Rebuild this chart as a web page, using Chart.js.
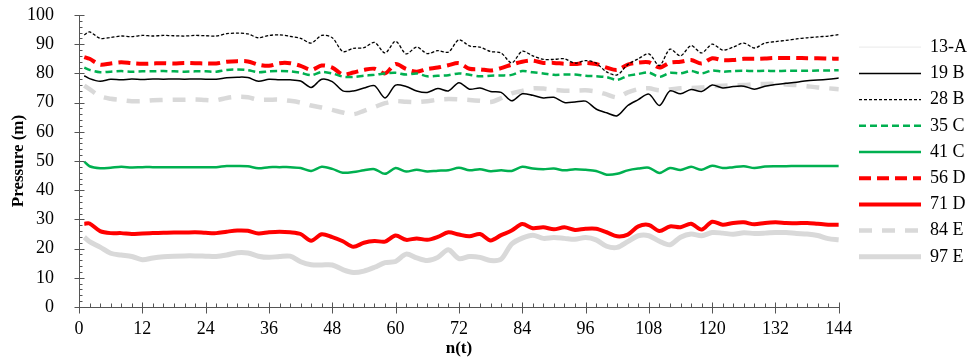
<!DOCTYPE html>
<html>
<head>
<meta charset="utf-8">
<script src="https://cdn.jsdelivr.net/npm/chart.js@4.4.1/dist/chart.umd.min.js"></script>
<style>
  html, body { margin: 0; padding: 0; background: #ffffff; }
  #wrap { width: 967px; height: 362px; position: relative; }
</style>
</head>
<body>
<div id="wrap"><canvas id="c" width="967" height="362"></canvas></div>
<script>
// time steps n(t)
const times = [1,2,4,6,8,10,12,14,16,18,20,22,24,26,28,30,32,34,36,38,40,42,44,46,48,50,52,54,56,58,60,62,64,66,68,70,72,74,76,78,80,82,84,86,88,90,92,94,96,98,100,102,104,106,108,110,112,114,116,118,120,122,124,126,128,130,132,134,136,138,140,142,144];
const xTicks = [0,12,24,36,48,60,72,84,96,108,120,132,144];
const yTicks = [0,10,20,30,40,50,60,70,80,90,100];
const seriesNames = ['13-A','19 B','28 B','35 C','41 C','56 D','71 D','84 E','97 E'];

const s19B = [79.2,78.2,77.3,78.0,77.8,78.1,77.9,78.1,78.0,78.1,78.0,78.1,78.0,78.0,78.5,78.7,78.6,77.3,78.0,77.8,77.8,77.4,75.2,78.0,77.2,74.0,74.0,75.0,75.8,71.6,76.0,75.5,74.0,73.5,74.8,74.0,76.8,74.6,75.0,73.8,73.5,70.6,73.0,72.5,71.6,71.8,70.0,70.2,70.5,67.8,66.5,65.5,69.0,71.0,72.9,69.0,74.0,73.0,74.5,73.8,76.0,75.0,75.5,75.6,74.6,75.6,76.2,76.6,77.0,77.5,77.7,78.0,78.4];
const s28B = [93.2,94.2,92.0,92.3,92.8,92.6,93.0,92.8,93.0,92.9,92.8,93.0,92.9,92.8,93.6,93.8,93.5,92.2,93.0,93.2,92.7,92.0,90.4,93.0,92.2,87.5,88.6,88.8,90.6,87.0,91.0,86.7,89.0,86.8,87.8,87.3,91.5,89.4,89.0,87.5,87.0,83.6,87.6,86.0,84.8,84.8,85.0,83.5,84.4,83.5,80.5,79.5,83.0,85.0,86.7,82.7,88.3,86.0,89.5,87.0,90.0,88.0,89.0,90.4,88.7,90.4,90.9,91.3,91.8,92.2,92.5,92.8,93.3];
const s13A = s28B; // not distinguishable in the picture: assumed to lie under 28 B
const s35C = [82.0,81.2,80.4,80.6,80.8,80.6,80.7,80.7,80.8,80.7,80.6,80.7,80.7,80.6,81.2,81.3,81.1,80.4,80.7,80.8,80.7,80.2,79.4,80.5,80.0,78.9,78.8,79.2,79.5,80.0,80.2,79.6,80.0,79.0,79.2,79.4,80.0,79.5,79.0,79.2,79.3,79.5,80.8,80.4,80.0,79.5,79.6,79.6,79.2,79.0,78.7,77.8,79.2,79.8,80.3,78.8,80.2,80.0,80.8,80.0,81.0,80.6,80.8,80.9,80.8,80.9,80.8,80.9,80.9,80.9,81.0,81.0,81.1];
const s41C = [49.8,48.2,47.5,47.7,48.0,47.8,47.9,47.9,47.9,47.9,47.9,47.9,47.9,47.9,48.3,48.3,48.2,47.5,47.9,47.9,47.9,47.6,46.6,48.0,47.3,46.0,46.2,46.8,47.2,45.6,47.6,46.4,47.0,46.4,46.7,46.8,47.7,46.8,47.2,46.5,46.8,46.6,48.0,47.4,47.2,47.4,46.8,47.2,47.0,46.6,45.3,45.6,46.8,47.4,47.7,45.9,47.6,46.9,48.0,47.0,48.4,47.6,47.9,48.2,47.6,48.1,48.2,48.2,48.3,48.3,48.3,48.3,48.3];
const s56D = [85.6,85.0,83.0,83.4,83.8,83.5,83.3,83.4,83.5,83.4,83.6,83.5,83.4,83.4,84.0,84.2,84.1,83.0,82.6,83.5,83.5,82.6,81.2,82.7,82.0,79.6,80.3,81.2,81.6,80.0,83.2,81.5,80.6,81.5,82.0,82.8,83.5,81.6,81.4,81.0,81.8,83.0,84.0,84.4,83.6,83.6,83.3,83.2,83.6,83.2,82.0,81.2,83.0,83.7,83.8,82.0,83.7,84.0,84.6,83.4,85.2,84.5,84.6,85.0,85.0,85.1,85.3,85.3,85.3,85.2,85.2,85.1,85.0];
const s71D = [28.5,28.6,26.0,25.3,25.3,25.0,25.2,25.3,25.4,25.5,25.5,25.6,25.4,25.3,25.8,26.2,26.1,25.2,25.6,25.8,25.6,25.0,22.7,24.9,23.9,22.5,20.6,22.0,22.6,22.4,24.5,23.0,23.5,23.0,24.0,25.6,24.8,24.2,25.0,22.8,24.6,26.2,28.4,27.0,27.3,26.6,27.3,26.4,26.8,26.8,25.6,24.2,24.8,27.6,28.1,26.0,27.6,27.3,28.5,26.5,29.2,28.2,28.8,29.0,28.3,28.8,29.0,28.8,28.7,28.8,28.5,28.2,28.2];
const s84E = [75.8,74.6,72.2,71.3,70.9,70.5,70.5,70.8,70.9,71.0,71.0,71.1,70.9,70.8,71.6,72.0,71.8,71.0,71.0,71.0,70.6,70.0,69.0,68.3,67.5,66.6,66.0,67.2,68.5,69.8,70.5,70.3,70.2,70.5,71.0,71.2,71.1,70.9,70.6,70.2,71.5,73.2,74.0,74.9,74.8,74.4,74.1,74.1,74.2,73.8,72.8,71.8,73.5,74.6,74.9,74.2,74.5,74.9,75.0,75.2,75.6,75.8,75.9,76.0,76.3,76.4,76.4,76.2,76.0,75.6,75.2,74.9,74.6];
const s97E = [23.9,22.4,20.5,18.4,17.8,17.3,16.2,16.8,17.2,17.4,17.5,17.5,17.4,17.3,17.8,18.6,18.5,17.4,17.0,17.3,17.4,15.5,14.5,14.4,14.4,12.8,11.8,12.3,13.6,15.2,15.6,18.1,16.8,15.9,17.0,19.6,16.6,17.3,17.0,15.9,16.4,21.6,23.6,24.6,23.5,23.8,23.5,23.2,23.8,23.0,20.8,20.4,22.4,24.4,24.4,22.5,21.3,23.9,25.0,24.4,25.5,25.3,24.9,25.4,25.2,25.3,25.5,25.5,25.2,25.0,24.5,23.4,23.0];

const values = [s13A, s19B, s28B, s35C, s41C, s56D, s71D, s84E, s97E];
const styles = [
  {color:'#eeeeee', width:1.2, dash:[]},
  {color:'#000000', width:1.5, dash:[]},
  {color:'#000000', width:1.3, dash:[3,2]},
  {color:'#00b050', width:2.5, dash:[7,4]},
  {color:'#00b050', width:2.5, dash:[]},
  {color:'#ff0000', width:4, dash:[12,6]},
  {color:'#ff0000', width:4, dash:[]},
  {color:'#d9d9d9', width:4.5, dash:[13,10]},
  {color:'#d9d9d9', width:5, dash:[]}
];

const datasets = seriesNames.map((name, i) => ({
  label: name,
  data: times.map((t, k) => ({x: t, y: values[i][k]})),
  borderColor: styles[i].color,
  backgroundColor: styles[i].color,
  borderWidth: styles[i].width,
  borderDash: styles[i].dash,
  pointRadius: 0,
  pointStyle: 'line',
  tension: 0.3,
  fill: false,
  order: i === 0 ? 10 : 0
}));

const FONT = "'Liberation Serif', 'Times New Roman', serif";

const tickPlugin = {
  id: 'ticks',
  afterLayout(chart) {
    if (chart.legend) { chart.legend.left += 12; chart.legend.right += 12; }
  },
  afterDatasetsDraw(chart) {
    const {ctx} = chart;
    const xs = chart.scales.x, ys = chart.scales.y;
    const x0 = Math.round(xs.left) + 0.5;
    const y0 = Math.round(ys.bottom) + 0.5;
    ctx.save();
    ctx.strokeStyle = '#555555';
    ctx.lineWidth = 1;
    ctx.beginPath();
    for (let v = 0; v <= 100; v += 2) {
      const py = Math.round(ys.getPixelForValue(v)) + 0.5;
      const major = v % 10 === 0;
      ctx.moveTo(major ? x0 - 5 : x0, py);
      ctx.lineTo(x0 + (major ? 5 : 3), py);
    }
    for (let v = 0; v <= 144; v += 2) {
      const px = Math.round(xs.getPixelForValue(v)) + 0.5;
      const major = v % 12 === 0;
      ctx.moveTo(px, y0 - (major ? 5 : 4));
      ctx.lineTo(px, major ? y0 + 6 : y0);
    }
    ctx.stroke();
    ctx.restore();
  }
};

new Chart(document.getElementById('c'), {
  type: 'line',
  data: { datasets },
  plugins: [tickPlugin],
  options: {
    responsive: false,
    animation: false,
    events: [],
    layout: { padding: { top: 15, left: 0, right: 2, bottom: 0 } },
    plugins: {
      tooltip: { enabled: false },
      legend: {
        position: 'right',
        align: 'start',
        title: { display: true, text: ' ', font: { family: FONT, size: 10 }, padding: 1.5 },
        labels: {
          usePointStyle: true,
          pointStyle: 'line',
          pointStyleWidth: 62,
          boxHeight: 18,
          padding: 8.2,
          color: '#000000',
          font: { family: FONT, size: 18 },
          generateLabels: (chart) => chart.data.datasets.map((ds, i) => ({
            text: ds.label,
            datasetIndex: i,
            fillStyle: ds.borderColor,
            strokeStyle: ds.borderColor,
            lineWidth: ds.borderWidth,
            lineDash: ds.borderDash,
            lineCap: 'butt',
            pointStyle: 'line',
            fontColor: '#000000',
            hidden: false
          }))
        }
      }
    },
    scales: {
      x: {
        type: 'linear',
        min: 0, max: 144,
        afterBuildTicks: (s) => { s.ticks = xTicks.map(v => ({value: v})); },
        afterFit: (s) => { s.height = 55; s.paddingLeft = 0; s.paddingRight = 14; },
        ticks: { color: '#000000', font: { family: FONT, size: 18 }, padding: 3, maxRotation: 0, autoSkip: false },
        grid: { display: false },
        border: { display: true, color: '#555555', width: 1 },
        title: { display: true, text: 'n(t)', color: '#000000', font: { family: FONT, size: 17, weight: 'bold' }, padding: { top: 0, bottom: 3 } }
      },
      y: {
        min: 0, max: 100,
        afterBuildTicks: (s) => { s.ticks = yTicks.map(v => ({value: v})); },
        afterFit: (s) => { s.width = 79; s.paddingTop = 0; s.paddingBottom = 0; },
        ticks: { color: '#000000', font: { family: FONT, size: 18 }, padding: 17 },
        grid: { display: false },
        border: { display: true, color: '#555555', width: 1 },
        title: { display: true, text: 'Pressure (m)', color: '#000000', font: { family: FONT, size: 17, weight: 'bold' }, padding: { top: 8, bottom: 0 } }
      }
    }
  }
});
</script>
</body>
</html>
